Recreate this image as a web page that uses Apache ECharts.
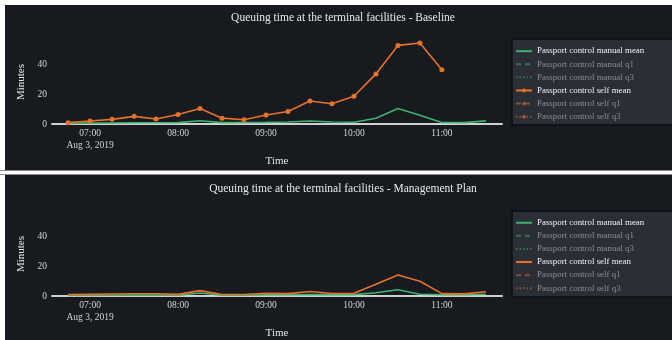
<!DOCTYPE html>
<html>
<head>
<meta charset="utf-8">
<script src="https://cdn.jsdelivr.net/npm/echarts@6/dist/echarts.min.js"></script>
<style>
  html, body { margin: 0; padding: 0; background: #ffffff; }
  #wrap { position: relative; width: 672px; height: 340px; overflow: hidden; background: #ffffff; }
  .panel { position: absolute; left: 5px; width: 667px; background: #171a1e; }
  #p1 { top: 5px; height: 165px; }
  #p2 { top: 175px; height: 165px; }
  #sep { position: absolute; left: 0; top: 170px; width: 672px; height: 5px; background: #ffffff;
         border-top: 1px solid #8a8a8a; border-bottom: 1px solid #8a8a8a; box-sizing: border-box; }
  #chart { position: absolute; left: 0; top: 0; width: 672px; height: 340px; }
</style>
</head>
<body>
<div id="wrap">
  <div class="panel" id="p1"></div>
  <div id="sep"></div>
  <div class="panel" id="p2"></div>
  <div id="chart"></div>
</div>
<script>
// 15-minute time slots on Aug 3, 2019
const slotTimes = ['06:45', '07:00', '07:15', '07:30', '07:45', '08:00', '08:15', '08:30', '08:45', '09:00',
                   '09:15', '09:30', '09:45', '10:00', '10:15', '10:30', '10:45', '11:00', '11:15', '11:30'];

// Baseline scenario (minutes)
const baselineManualMean = [0.4, 0.6, 0.7, 0.8, 0.8, 0.9, 2.2, 0.9, 1.0, 1.1, 1.3, 2.0, 1.3, 1.2, 3.8, 10.4, 5.8, 1.0, 0.9, 2.1];
const baselineSelfMean   = [0.9, 2.0, 3.1, 5.1, 3.3, 6.3, 10.4, 3.9, 2.8, 6.0, 8.3, 15.3, 13.5, 18.5, 33.4, 52.4, 54.0, 36.2];

// Management plan scenario (minutes)
const planManualMean = [0.3, 0.4, 0.5, 0.6, 0.6, 0.5, 2.0, 0.5, 0.5, 0.8, 0.8, 1.0, 0.9, 0.9, 2.2, 4.2, 1.2, 0.8, 0.8, 1.2];
const planSelfMean   = [0.9, 1.1, 1.3, 1.5, 1.5, 1.1, 3.6, 1.0, 1.0, 1.8, 1.6, 3.0, 1.7, 1.8, 7.8, 14.0, 9.8, 1.6, 1.4, 2.8];

const panelTitles = ['Queuing time at the terminal facilities - Baseline',
                     'Queuing time at the terminal facilities - Management Plan'];
const seriesNames = ['Passport control manual mean', 'Passport control manual q1', 'Passport control manual q3',
                     'Passport control self mean', 'Passport control self q1', 'Passport control self q3'];
const yTicks = [0, 20, 40];
const dateLabel = 'Aug 3, 2019';
const xRange = ['06:34', '11:41'];

const GREEN = '#3cb371';
const ORANGE = '#e8722c';
const FONT = 'Liberation Serif';

function toTime(hhmm) {
  const [h, m] = hhmm.split(':').map(Number);
  return new Date(2019, 7, 3, h, m).getTime();
}
function pairs(values) {
  return values.map((v, k) => [toTime(slotTimes[k]), v]);
}
function pad(n) { return (n < 10 ? '0' : '') + n; }

const panels = [
  { key: 'Baseline', manual: baselineManualMean, self: baselineSelfMean, markers: true, top: 40, legendTop: 44.6, boxTop: 39 },
  { key: 'Plan', manual: planManualMean, self: planSelfMean, markers: false, top: 212, legendTop: 216.2, boxTop: 211 }
];

const grids = [], xAxes = [], yAxes = [], series = [], legends = [], graphics = [];

panels.forEach((p, i) => {
  grids.push({ left: 52, top: p.top, width: 450, height: 84, containLabel: false });

  xAxes.push({
    type: 'time', gridIndex: i,
    min: toTime(xRange[0]), max: toTime(xRange[1]),
    minInterval: 3600 * 1000, maxInterval: 3600 * 1000,
    axisLine: { onZero: true, lineStyle: { color: '#cfcfcf', width: 2 } },
    axisTick: { show: false },
    splitLine: { show: false },
    axisLabel: {
      color: '#d4d4d4', fontFamily: FONT, fontSize: 9.5, margin: 4, lineHeight: 11.5,
      showMinLabel: true, showMaxLabel: true, hideOverlap: false,
      formatter: function (v) {
        const d = new Date(v);
        if (d.getMinutes() !== 0) return '';
        const s = pad(d.getHours()) + ':00';
        return d.getHours() === 7 ? s + '\n' + dateLabel : s;
      }
    },
    name: 'Time', nameLocation: 'middle', nameGap: 32,
    nameTextStyle: { color: '#e6e6e6', fontFamily: FONT, fontSize: 11 }
  });

  yAxes.push({
    type: 'value', gridIndex: i, min: 0, max: 56, interval: 20,
    axisLine: { show: false }, axisTick: { show: false }, splitLine: { show: false },
    axisLabel: {
      color: '#d4d4d4', fontFamily: FONT, fontSize: 9.5, margin: 5, showMaxLabel: false,
      formatter: v => (yTicks.indexOf(v) >= 0 ? String(v) : '')
    },
    name: 'Minutes', nameLocation: 'middle', nameRotate: 90, nameGap: 25,
    nameTextStyle: { color: '#e6e6e6', fontFamily: FONT, fontSize: 11 }
  });

  const mk = (label) => p.key + '|' + label;
  const dashed = [5, 4], dotted = [1.5, 2];

  series.push(
    { type: 'line', name: mk(seriesNames[0]), xAxisIndex: i, yAxisIndex: i, data: pairs(p.manual),
      symbol: 'none', color: GREEN, lineStyle: { color: GREEN, width: 1.6 }, z: 3 },
    { type: 'line', name: mk(seriesNames[1]), xAxisIndex: i, yAxisIndex: i, data: [],
      symbol: 'none', color: GREEN, lineStyle: { color: GREEN, width: 1.6, type: dashed } },
    { type: 'line', name: mk(seriesNames[2]), xAxisIndex: i, yAxisIndex: i, data: [],
      symbol: 'none', color: GREEN, lineStyle: { color: GREEN, width: 1.6, type: dotted } },
    { type: 'line', name: mk(seriesNames[3]), xAxisIndex: i, yAxisIndex: i, data: pairs(p.self),
      symbol: p.markers ? 'circle' : 'none', symbolSize: 5, showSymbol: p.markers,
      color: ORANGE, itemStyle: { color: ORANGE }, lineStyle: { color: ORANGE, width: 1.6 }, z: 4 },
    { type: 'line', name: mk(seriesNames[4]), xAxisIndex: i, yAxisIndex: i, data: [],
      symbol: p.markers ? 'circle' : 'none', symbolSize: 5,
      color: ORANGE, itemStyle: { color: ORANGE }, lineStyle: { color: ORANGE, width: 1.6, type: dashed } },
    { type: 'line', name: mk(seriesNames[5]), xAxisIndex: i, yAxisIndex: i, data: [],
      symbol: p.markers ? 'circle' : 'none', symbolSize: 5,
      color: ORANGE, itemStyle: { color: ORANGE }, lineStyle: { color: ORANGE, width: 1.6, type: dotted } }
  );

  legends.push({
    orient: 'vertical', left: 515, top: p.legendTop, padding: 0,
    itemWidth: 16, itemHeight: 5, itemGap: 0,
    selectedMode: false,
    textStyle: { fontFamily: FONT, fontSize: 8.9, lineHeight: 13.1, color: '#f2f2f2' },
    formatter: n => n.split('|')[1],
    data: seriesNames.map((label, k) => {
      const active = (k === 0 || k === 3);
      const withDot = p.markers && k >= 3;
      return {
        name: mk(label),
        textStyle: { color: active ? '#f2f2f2' : '#8e8e8e' },
        lineStyle: { opacity: active ? 1 : 0.5 },
        itemStyle: { opacity: withDot ? (active ? 1 : 0.5) : 0 }
      };
    })
  });

  graphics.push({
    type: 'rect', z: 1, silent: true,
    shape: { x: 512, y: p.boxTop, width: 175, height: 86 },
    style: { fill: '#2a2e35', stroke: '#0e1013', lineWidth: 1.5 }
  });
  graphics.push({
    type: 'text', z: 10, silent: true, x: 343, y: (i === 0 ? 18 : 189),
    style: { text: panelTitles[i], fill: '#e8e8e8', font: '11.5px "' + FONT + '"',
             textAlign: 'center', textVerticalAlign: 'middle' }
  });
});

const chart = echarts.init(document.getElementById('chart'), null, { renderer: 'canvas' });
chart.setOption({
  backgroundColor: 'transparent',
  animation: false,
  grid: grids,
  xAxis: xAxes,
  yAxis: yAxes,
  legend: legends,
  graphic: graphics,
  series: series
});
</script>
</body>
</html>
